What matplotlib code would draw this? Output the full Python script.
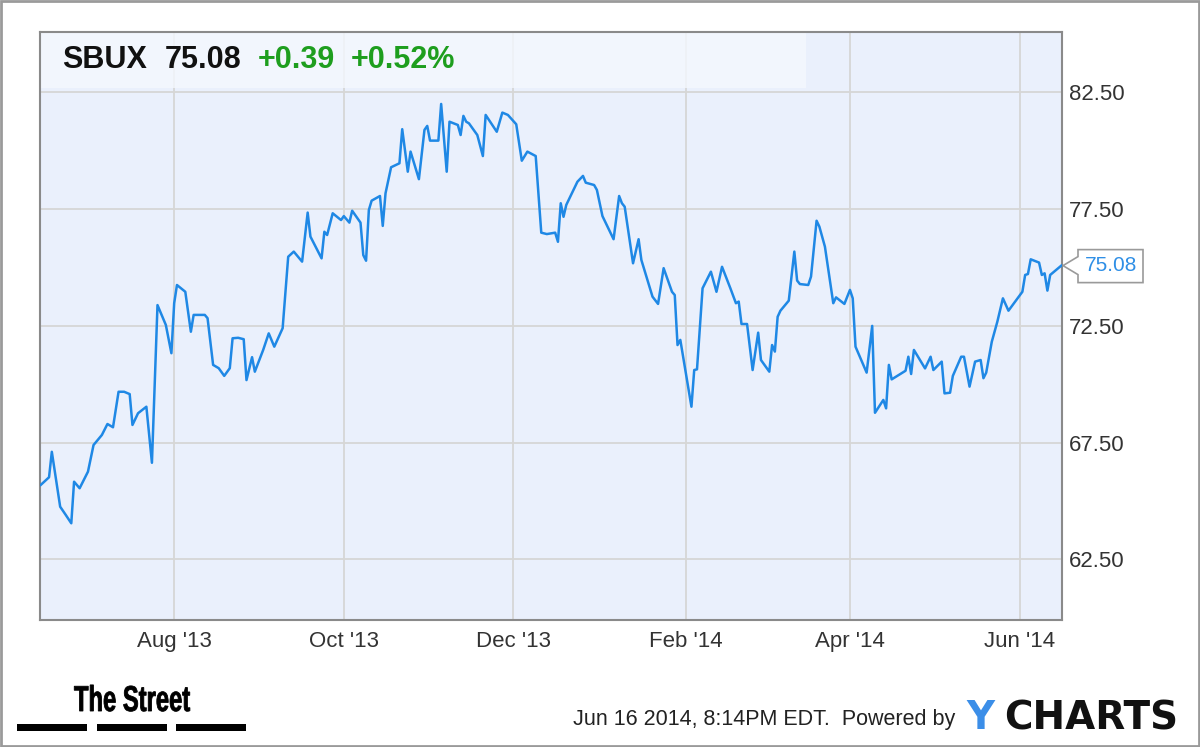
import numpy as np
import pandas as pd
import matplotlib
matplotlib.use("Agg")
import matplotlib.pyplot as plt
import matplotlib.dates as mdates
from matplotlib.patches import Rectangle, Polygon, PathPatch
from matplotlib.textpath import TextPath
from matplotlib.font_manager import FontProperties
from matplotlib.transforms import Affine2D

# --- DATA (SBUX close) ---
dates = [
    "2013-06-14", "2013-06-17", "2013-06-18", "2013-06-19", "2013-06-21", "2013-06-23",
    "2013-06-25", "2013-06-26", "2013-06-28",
    "2013-07-01", "2013-07-03", "2013-07-06", "2013-07-08", "2013-07-10", "2013-07-12",
    "2013-07-14", "2013-07-16", "2013-07-17", "2013-07-19", "2013-07-22", "2013-07-24",
    "2013-07-26", "2013-07-29", "2013-07-31",
    "2013-08-01", "2013-08-02", "2013-08-05", "2013-08-07", "2013-08-08", "2013-08-12",
    "2013-08-13", "2013-08-15", "2013-08-17", "2013-08-19", "2013-08-21", "2013-08-22",
    "2013-08-24", "2013-08-26", "2013-08-27", "2013-08-29", "2013-08-30",
    "2013-09-02", "2013-09-04", "2013-09-06", "2013-09-09", "2013-09-11", "2013-09-13",
    "2013-09-16", "2013-09-18", "2013-09-19", "2013-09-23", "2013-09-24", "2013-09-25",
    "2013-09-27", "2013-09-30",
    "2013-10-01", "2013-10-03", "2013-10-04", "2013-10-07", "2013-10-08", "2013-10-09",
    "2013-10-10", "2013-10-11", "2013-10-14", "2013-10-15", "2013-10-16", "2013-10-18",
    "2013-10-21", "2013-10-22", "2013-10-24", "2013-10-25", "2013-10-28", "2013-10-30",
    "2013-10-31",
    "2013-11-01", "2013-11-04", "2013-11-05", "2013-11-07", "2013-11-08", "2013-11-11",
    "2013-11-12", "2013-11-13", "2013-11-14", "2013-11-15", "2013-11-18", "2013-11-20",
    "2013-11-21", "2013-11-25", "2013-11-27", "2013-11-29",
    "2013-12-02", "2013-12-04", "2013-12-06", "2013-12-09", "2013-12-11", "2013-12-13",
    "2013-12-16", "2013-12-17", "2013-12-18", "2013-12-19", "2013-12-20", "2013-12-24",
    "2013-12-26", "2013-12-27", "2013-12-30", "2013-12-31",
    "2014-01-02", "2014-01-06", "2014-01-08", "2014-01-09", "2014-01-10", "2014-01-13",
    "2014-01-15", "2014-01-16", "2014-01-20", "2014-01-22", "2014-01-24", "2014-01-27",
    "2014-01-28", "2014-01-29", "2014-01-30",
    "2014-02-03", "2014-02-04", "2014-02-05", "2014-02-07", "2014-02-10", "2014-02-12",
    "2014-02-14", "2014-02-17", "2014-02-19", "2014-02-20", "2014-02-21", "2014-02-23",
    "2014-02-25", "2014-02-27", "2014-02-28",
    "2014-03-03", "2014-03-04", "2014-03-05", "2014-03-06", "2014-03-07", "2014-03-10",
    "2014-03-12", "2014-03-13", "2014-03-14", "2014-03-17", "2014-03-18", "2014-03-20",
    "2014-03-21", "2014-03-23", "2014-03-26", "2014-03-27", "2014-03-30",
    "2014-04-01", "2014-04-02", "2014-04-03", "2014-04-07", "2014-04-09", "2014-04-10",
    "2014-04-13", "2014-04-14", "2014-04-15", "2014-04-16", "2014-04-21", "2014-04-22",
    "2014-04-23", "2014-04-24", "2014-04-28", "2014-04-30",
    "2014-05-01", "2014-05-04", "2014-05-05", "2014-05-07", "2014-05-08", "2014-05-11",
    "2014-05-12", "2014-05-14", "2014-05-16", "2014-05-18", "2014-05-19", "2014-05-20",
    "2014-05-22", "2014-05-24", "2014-05-26", "2014-05-28",
    "2014-06-02", "2014-06-03", "2014-06-04", "2014-06-05", "2014-06-08", "2014-06-09",
    "2014-06-10", "2014-06-11", "2014-06-12", "2014-06-16",
]
prices = [
    65.69, 66.02, 67.11, 66.33, 64.76, 64.41, 64.05, 65.83, 65.55,
    66.26, 67.40, 67.83, 68.30, 68.16, 69.68, 69.68, 69.58, 68.26, 68.76, 69.04, 66.64,
    73.39, 72.54, 71.33,
    73.47, 74.25, 73.96, 72.25, 72.97, 72.97, 72.83, 70.83, 70.69, 70.36, 70.69, 71.97,
    71.99, 71.93, 70.18, 71.16, 70.54,
    71.47, 72.18, 71.61, 72.40, 75.46, 75.68, 75.25, 77.35, 76.32, 75.39, 76.53, 76.39,
    77.32, 77.03,
    77.20, 76.92, 77.43, 76.92, 75.53, 75.29, 77.46, 77.86, 78.06, 76.78, 78.18, 79.29,
    79.46, 80.92, 79.10, 79.96, 78.78, 80.89, 81.06,
    80.43, 80.43, 82.00, 79.10, 81.24, 81.10, 80.67, 81.49, 81.24, 81.17, 80.67, 79.77,
    81.53, 80.81, 81.63, 81.53,
    81.13, 79.57, 79.96, 79.77, 76.49, 76.43, 76.49, 76.10, 77.75, 77.17, 77.68, 78.67,
    78.92, 78.63, 78.53, 78.32,
    77.20, 76.21, 78.06, 77.75, 77.60, 75.18, 76.21, 75.32, 73.75, 73.44, 74.97, 73.96,
    73.82, 71.68, 71.90,
    69.04, 70.61, 70.64, 74.11, 74.82, 73.96, 75.03, 74.11, 73.47, 73.54, 72.58, 72.58,
    70.61, 72.21, 71.04,
    70.54, 71.68, 71.40, 72.89, 73.15, 73.58, 75.68, 74.44, 74.29, 74.25, 74.61, 77.00,
    76.75, 75.89, 73.47, 73.72, 73.44,
    74.04, 73.68, 71.61, 70.50, 72.50, 68.78, 69.33, 68.97, 70.83, 70.21, 70.58, 71.18,
    70.44, 71.47, 70.68, 71.18,
    70.61, 70.97, 69.61, 69.64, 70.36, 71.18, 71.18, 69.90, 70.97, 71.04, 70.26, 70.50,
    71.82, 72.68, 73.68, 73.15,
    73.96, 74.68, 74.72, 75.35, 75.21, 74.68, 74.75, 74.01, 74.68, 75.08,
]
ticker = "SBUX"
last_price = "75.08"
change = "+0.39"
change_pct = "+0.52%"
y_ticks = [62.5, 67.5, 72.5, 77.5, 82.5]
timestamp = "Jun 16 2014, 8:14PM EDT."

dates = pd.to_datetime(dates)

# --- FIGURE ---
W, H = 1200, 747
fig = plt.figure(figsize=(W / 100, H / 100), dpi=100)
fig.patch.set_facecolor("white")

ax = fig.add_axes([40 / W, 1 - 620 / H, 1022 / W, 588 / H])
ax.set_facecolor("#eaf0fc")

ax.plot(dates, prices, color="#1f88e5", linewidth=1.8, zorder=3)

ax.set_xlim(pd.Timestamp("2013-06-13 18:00"), pd.Timestamp("2014-06-16 06:00"))
ax.set_ylim(59.91, 85.08)

ax.xaxis.set_major_locator(mdates.MonthLocator(bymonth=[2, 4, 6, 8, 10, 12]))
ax.xaxis.set_major_formatter(mdates.DateFormatter("%b '%y"))
ax.set_yticks(y_ticks)
ax.set_yticklabels([f"{v:.2f}" for v in y_ticks])
ax.yaxis.tick_right()
ax.tick_params(axis="both", length=0, labelsize=16, labelcolor="#333333")
ax.tick_params(axis="x", pad=8)
ax.tick_params(axis="y", pad=5)
for lab in ax.get_xticklabels() + ax.get_yticklabels():
    lab.set_fontfamily("Liberation Sans")

ax.grid(True, color="#d6d6d6", linewidth=1.3)
ax.set_axisbelow(True)
for sp in ax.spines.values():
    sp.set_color("#8a8a8a")
    sp.set_linewidth(1.5)

# header strip, semi-opaque so the grid shows faintly through it
ax.add_patch(Rectangle((0, (620 - 88) / 588), (806 - 40) / 1022, 1, transform=ax.transAxes,
                       facecolor="#f5f8fe", alpha=0.8, edgecolor="none", zorder=0.7))

hdr = dict(fontsize=22, fontweight="bold", family="Liberation Sans", va="center")
fig.text(62 / W, 1 - 60 / H, ticker, color="#111111", **hdr)
fig.text(165 / W, 1 - 60 / H, last_price, color="#111111", **hdr)
fig.text(258 / W, 1 - 60 / H, change, color="#1e9e1e", **hdr)
fig.text(351 / W, 1 - 60 / H, change_pct, color="#1e9e1e", **hdr)

# last value tag
fig.canvas.draw()
tip_x, tip_y = ax.transData.transform((mdates.date2num(dates[-1]), prices[-1]))
tip_x = ax.transAxes.transform((1, 0))[0] + 1
shape = [(tip_x, tip_y), (tip_x + 15, tip_y + 9), (tip_x + 15, tip_y + 16),
         (tip_x + 80, tip_y + 16), (tip_x + 80, tip_y - 17), (tip_x + 15, tip_y - 17),
         (tip_x + 15, tip_y - 9)]
fig.patches.append(Polygon(shape, closed=True, transform=None, facecolor="white",
                           edgecolor="#9a9a9a", linewidth=1.2, figure=fig))
fig.text((tip_x + 48) / W, tip_y / H, last_price, fontsize=15, color="#2f8fe6",
         family="Liberation Sans", ha="center", va="center")

# footer: condensed "The Street" logo
tp = TextPath((0, 0), "The Street", size=36,
              prop=FontProperties(family="Liberation Sans", weight="bold"))
logo_tf = Affine2D().scale(0.66, 1.0).translate(74, H - 711)
fig.patches.append(PathPatch(logo_tf.transform_path(tp), transform=None,
                             facecolor="black", edgecolor="black", linewidth=0.6, figure=fig))
for x0 in (17, 97, 176):
    fig.patches.append(Rectangle((x0 / W, 1 - 731 / H), 70 / W, 7 / H, transform=fig.transFigure,
                                 facecolor="black", edgecolor="none", figure=fig))
fig.text(955 / W, 1 - 719 / H, timestamp + "  Powered by", fontsize=15.5, color="#222222",
         family="Liberation Sans", ha="right", va="center")
fig.text(966 / W, 1 - 718 / H, "Y", fontsize=28, fontweight="bold", color="#3b8ee8",
         family="DejaVu Sans", va="center")
fig.text(1004 / W, 1 - 718 / H, "CHARTS", fontsize=28, fontweight="bold", color="#111111",
         family="DejaVu Sans", va="center")

# outer frame
fig.patches.append(Rectangle((0.001, 0.001), 0.998, 0.997, transform=fig.transFigure,
                             facecolor="none", edgecolor="#9a9a9a", linewidth=2, figure=fig))

fig.savefig("out.png", dpi=100)
